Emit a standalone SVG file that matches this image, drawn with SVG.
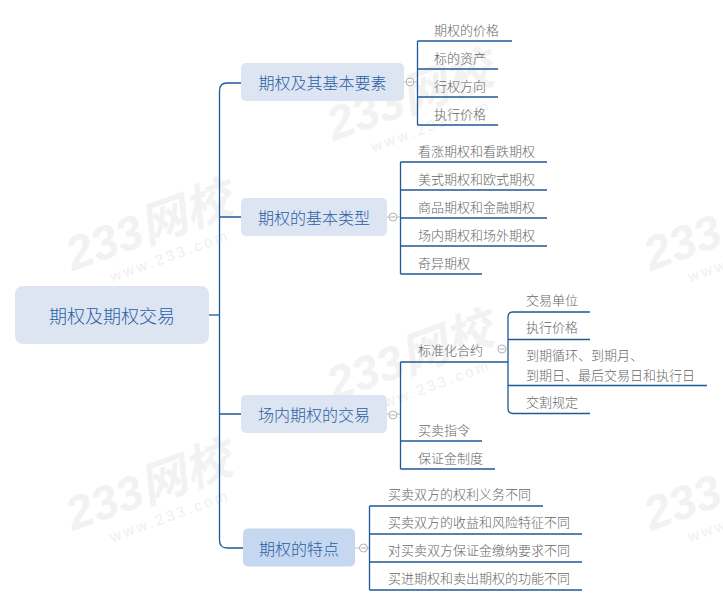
<svg xmlns="http://www.w3.org/2000/svg" xmlns:xlink="http://www.w3.org/1999/xlink" width="723" height="606" viewBox="0 0 723 606">
<style>
.bg{fill:#ffffff}
.wm1{font-family:"Liberation Sans","Noto Sans CJK SC",sans-serif;font-size:47px;font-weight:bold;font-style:italic;fill:#f2f2f2}
.wm2{font-family:"Liberation Sans",sans-serif;font-size:15px;letter-spacing:3px;fill:#efefef}
.root{fill:#dce5f1}
.l1{fill:#dce5f1}
.l1s{fill:#c6d8ef}
.t0{font-family:"Noto Sans CJK SC","Microsoft YaHei",sans-serif;font-size:18px;font-weight:300;fill:#2a5ea6;text-anchor:middle;dominant-baseline:central}
.t1{font-family:"Noto Sans CJK SC","Microsoft YaHei",sans-serif;font-size:16px;font-weight:300;fill:#2a5ea6;text-anchor:middle;dominant-baseline:central}
.t2{font-family:"Noto Sans CJK SC","Microsoft YaHei",sans-serif;font-size:13px;font-weight:300;fill:#666666;dominant-baseline:central}
.ln{fill:none;stroke:#1f5a96;stroke-width:1.3}
.thin{fill:none;stroke:#b0b0b0;stroke-width:0.8}
.cc{fill:#ffffff;stroke:#a8a8a8;stroke-width:0.9}
.cm{stroke:#a8a8a8;stroke-width:0.9}
</style>
<defs>
<g id="wm">
<g transform="rotate(-20 150 225)">
<text class="wm1" x="62" y="242">233网校</text>
<text class="wm2" x="95" y="266">www.233.com</text>
</g>
</g>
</defs>
<rect class="bg" x="0" y="0" width="723" height="606"/>
<g id="watermarks">
<use xlink:href="#wm"/>
<use xlink:href="#wm" transform="translate(0 260)"/>
<use xlink:href="#wm" transform="translate(261 -130)"/>
<use xlink:href="#wm" transform="translate(261 130)"/>
<use xlink:href="#wm" transform="translate(578 0)"/>
<use xlink:href="#wm" transform="translate(578 260)"/>
</g>
<g id="connectors">
<path class="ln" d="M209,315 H219"/>
<path class="ln" d="M241,83 H227 Q219.5,83 219.5,91 V540 Q219.5,548 227,548 H243"/>
<path class="ln" d="M219.5,217 H241 M219.5,414 H241"/>
<path class="thin" d="M404,82 H417.5"/>
<path class="ln" d="M417.5,41 V125 M417.5,41 H512 M417.5,69 H498 M417.5,97 H498 M417.5,125 H498"/>
<path class="thin" d="M387,217 H400.5"/>
<path class="ln" d="M400.5,162 V274 M400.5,162 H547 M400.5,190 H547 M400.5,218 H547 M400.5,246 H547 M400.5,274 H482"/>
<path class="thin" d="M387,414 H400.5"/>
<path class="ln" d="M400.5,362 V469 M400.5,362 H508 M400.5,441 H482 M400.5,469 H495"/>
<path class="ln" d="M590,312 H513 Q508,312 508,317 V408.5 Q508,413.5 513,413.5 H590 M508,339.5 H590 M508,385.5 H707"/>
<path class="thin" d="M355,548 H369.5"/>
<path class="ln" d="M369.5,506 V590 M369.5,506 H543 M369.5,534 H582 M369.5,562 H582 M369.5,590 H582"/>
</g>
<g id="root">
<rect class="root" x="15" y="286" width="194" height="58" rx="8"/>
<text class="t0" x="112" y="315">期权及期权交易</text>
</g>
<g id="n1">
<rect class="l1" x="241" y="63" width="163" height="38" rx="5"/>
<text class="t1" x="322.5" y="82">期权及其基本要素</text>
<circle class="cc" cx="410" cy="82" r="4"/><path class="cm" d="M407.5,82 H412.5"/>
</g>
<g id="n1c1"><text class="t2" x="434" y="29.5">期权的价格</text></g>
<g id="n1c2"><text class="t2" x="434" y="57">标的资产</text></g>
<g id="n1c3"><text class="t2" x="434" y="85">行权方向</text></g>
<g id="n1c4"><text class="t2" x="434" y="113">执行价格</text></g>
<g id="n2">
<rect class="l1" x="241" y="198" width="146" height="38" rx="5"/>
<text class="t1" x="314" y="217">期权的基本类型</text>
<circle class="cc" cx="393" cy="217" r="4"/><path class="cm" d="M390.5,217 H395.5"/>
</g>
<g id="n2c1"><text class="t2" x="418" y="150">看涨期权和看跌期权</text></g>
<g id="n2c2"><text class="t2" x="418" y="178">美式期权和欧式期权</text></g>
<g id="n2c3"><text class="t2" x="418" y="206">商品期权和金融期权</text></g>
<g id="n2c4"><text class="t2" x="418" y="234">场内期权和场外期权</text></g>
<g id="n2c5"><text class="t2" x="418" y="262">奇异期权</text></g>
<g id="n3">
<rect class="l1" x="241" y="395" width="146" height="38" rx="5"/>
<text class="t1" x="314" y="414">场内期权的交易</text>
<circle class="cc" cx="393" cy="415" r="4"/><path class="cm" d="M390.5,415 H395.5"/>
</g>
<g id="n3c1">
<text class="t2" x="418" y="349.5">标准化合约</text>
<circle class="cc" cx="502" cy="349" r="4"/><path class="cm" d="M499.5,349 H504.5"/>
</g>
<g id="n3c1a"><text class="t2" x="526" y="299">交易单位</text></g>
<g id="n3c1b"><text class="t2" x="526" y="326.5">执行价格</text></g>
<g id="n3c1c"><text class="t2" x="526" y="354.5">到期循环、到期月、<tspan x="526" dy="19.2">到期日、最后交易日和执行日</tspan></text></g>
<g id="n3c1d"><text class="t2" x="526" y="401">交割规定</text></g>
<g id="n3c2"><text class="t2" x="418" y="429">买卖指令</text></g>
<g id="n3c3"><text class="t2" x="418" y="457">保证金制度</text></g>
<g id="n4">
<rect class="l1s" x="243" y="528.5" width="112" height="38" rx="5"/>
<text class="t1" x="299" y="547.5">期权的特点</text>
<circle class="cc" cx="363.5" cy="548" r="4"/><path class="cm" d="M361,548 H366"/>
</g>
<g id="n4c1"><text class="t2" x="388" y="493.5">买卖双方的权利义务不同</text></g>
<g id="n4c2"><text class="t2" x="388" y="521.5">买卖双方的收益和风险特征不同</text></g>
<g id="n4c3"><text class="t2" x="388" y="549.5">对买卖双方保证金缴纳要求不同</text></g>
<g id="n4c4"><text class="t2" x="388" y="577">买进期权和卖出期权的功能不同</text></g>
</svg>
